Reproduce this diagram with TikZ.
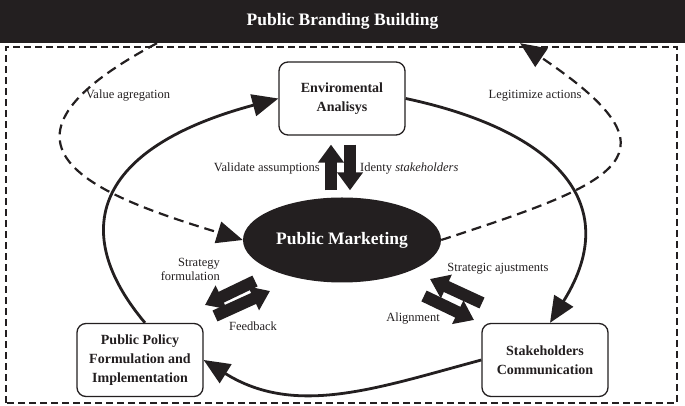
\documentclass[tikz,border=0pt]{standalone}
\usepackage{fontspec}
\setmainfont{Liberation Serif}
\usetikzlibrary{arrows.meta,calc,positioning,shapes.geometric}
\definecolor{BrandBlack}{RGB}{35,31,32}

\begin{document}
\begin{tikzpicture}[x=1pt,y=1pt,
    roundbox/.style={draw=BrandBlack, line width=1.3pt, rounded corners=9pt, fill=white,
        minimum width=126pt, minimum height=73pt, align=center, inner sep=2pt,
        text=BrandBlack, font=\fontsize{14}{19}\selectfont\bfseries},
    lbl/.style={font=\fontsize{12.5}{14}\selectfont, text=BrandBlack, inner sep=1pt},
    loopline/.style={draw=BrandBlack, line width=2.8pt, -{Triangle[length=26pt,width=22pt]}},
    dashloop/.style={draw=BrandBlack, line width=2.2pt, dash pattern=on 10pt off 6pt,
        -{Triangle[length=26pt,width=22pt]}},
    fatarrow/.style={draw=BrandBlack, line width=12pt, -{Triangle[length=18pt,width=25pt]}}]
    \useasboundingbox (0,0) rectangle (685,406);
    % Title band and dashed frame
    \node[fill=BrandBlack, text=white, minimum width=685pt, minimum height=43pt, inner sep=0pt,
        font=\fontsize{17.5}{20}\selectfont\bfseries] (band) at (342.5,384.5) {Public Branding Building};
    \draw[BrandBlack, line width=1.4pt, dash pattern=on 7pt off 4pt] (6,3) rectangle (677,359);
    % Stages of the cycle
    \node[roundbox] (envbox) at (342,307.5) {Enviromental\\Analisys};
    \node[roundbox] (policy) at (140,46) {Public Policy\\Formulation and\\Implementation};
    \node[roundbox] (stake) at (545,46) {Stakeholders\\Communication};
    \node[ellipse, fill=BrandBlack, text=white, minimum width=198pt, minimum height=85pt, inner sep=0pt,
        font=\fontsize{17.5}{20}\selectfont\bfseries] (pmkt) at (342,166) {Public Marketing};
    % Outer solid cycle
    \draw[loopline] (envbox.east) to[out=-12,in=58,looseness=1.4] ([xshift=5pt]stake.north);
    \draw[loopline] (stake.west) to[out=195,in=-32] (policy.east);
    \draw[loopline] ([xshift=5pt]policy.north) to[out=130,in=195,out distance=120pt,in distance=190pt] (envbox.west);
    % Dashed branding loops
    \draw[dashloop] ([xshift=-185.5pt]band.south) to[out=208,in=163,out distance=220pt,in distance=150pt] (pmkt.west);
    \draw[dashloop] (pmkt.east) to[out=18,in=-34,out distance=190pt,in distance=200pt] ([xshift=177.5pt]band.south);
    \node[lbl] (valag) at (128,310) {Value agregation};
    \node[lbl] (legit) at (535,310) {Legitimize actions};
    % Exchanges with public marketing
    \draw[fatarrow] ([xshift=-11pt,yshift=7pt]pmkt.north) -- ([xshift=-11pt,yshift=-9pt]envbox.south);
    \draw[fatarrow] ([xshift=8pt,yshift=-9pt]envbox.south) -- ([xshift=8pt,yshift=7pt]pmkt.north);
    \node[lbl, anchor=east] (valid) at (321,237) {Validate assumptions};
    \node[lbl, anchor=west] (ident) at (359,237) {Identy \textit{stakeholders}};
    \coordinate (sfA) at (255,125);
    \coordinate (sfB) at (205,101);
    \coordinate (fbA) at (215,90);
    \coordinate (fbB) at (270,115);
    \draw[fatarrow] (sfA) -- (sfB);
    \draw[fatarrow] (fbA) -- (fbB);
    \node[lbl, anchor=east, align=right] (strat) at (221,137) {Strategy\\formulation};
    \node[lbl] (feed) at (253,80) {Feedback};
    \coordinate (saA) at (482,103);
    \coordinate (saB) at (430,127);
    \coordinate (alA) at (424,110);
    \coordinate (alB) at (474,86);
    \draw[fatarrow] (saA) -- (saB);
    \draw[fatarrow] (alA) -- (alB);
    \node[lbl] (sadj) at (498,137) {Strategic ajustments};
    \node[lbl] (align) at (413,87) {Alignment};
\end{tikzpicture}
\end{document}
